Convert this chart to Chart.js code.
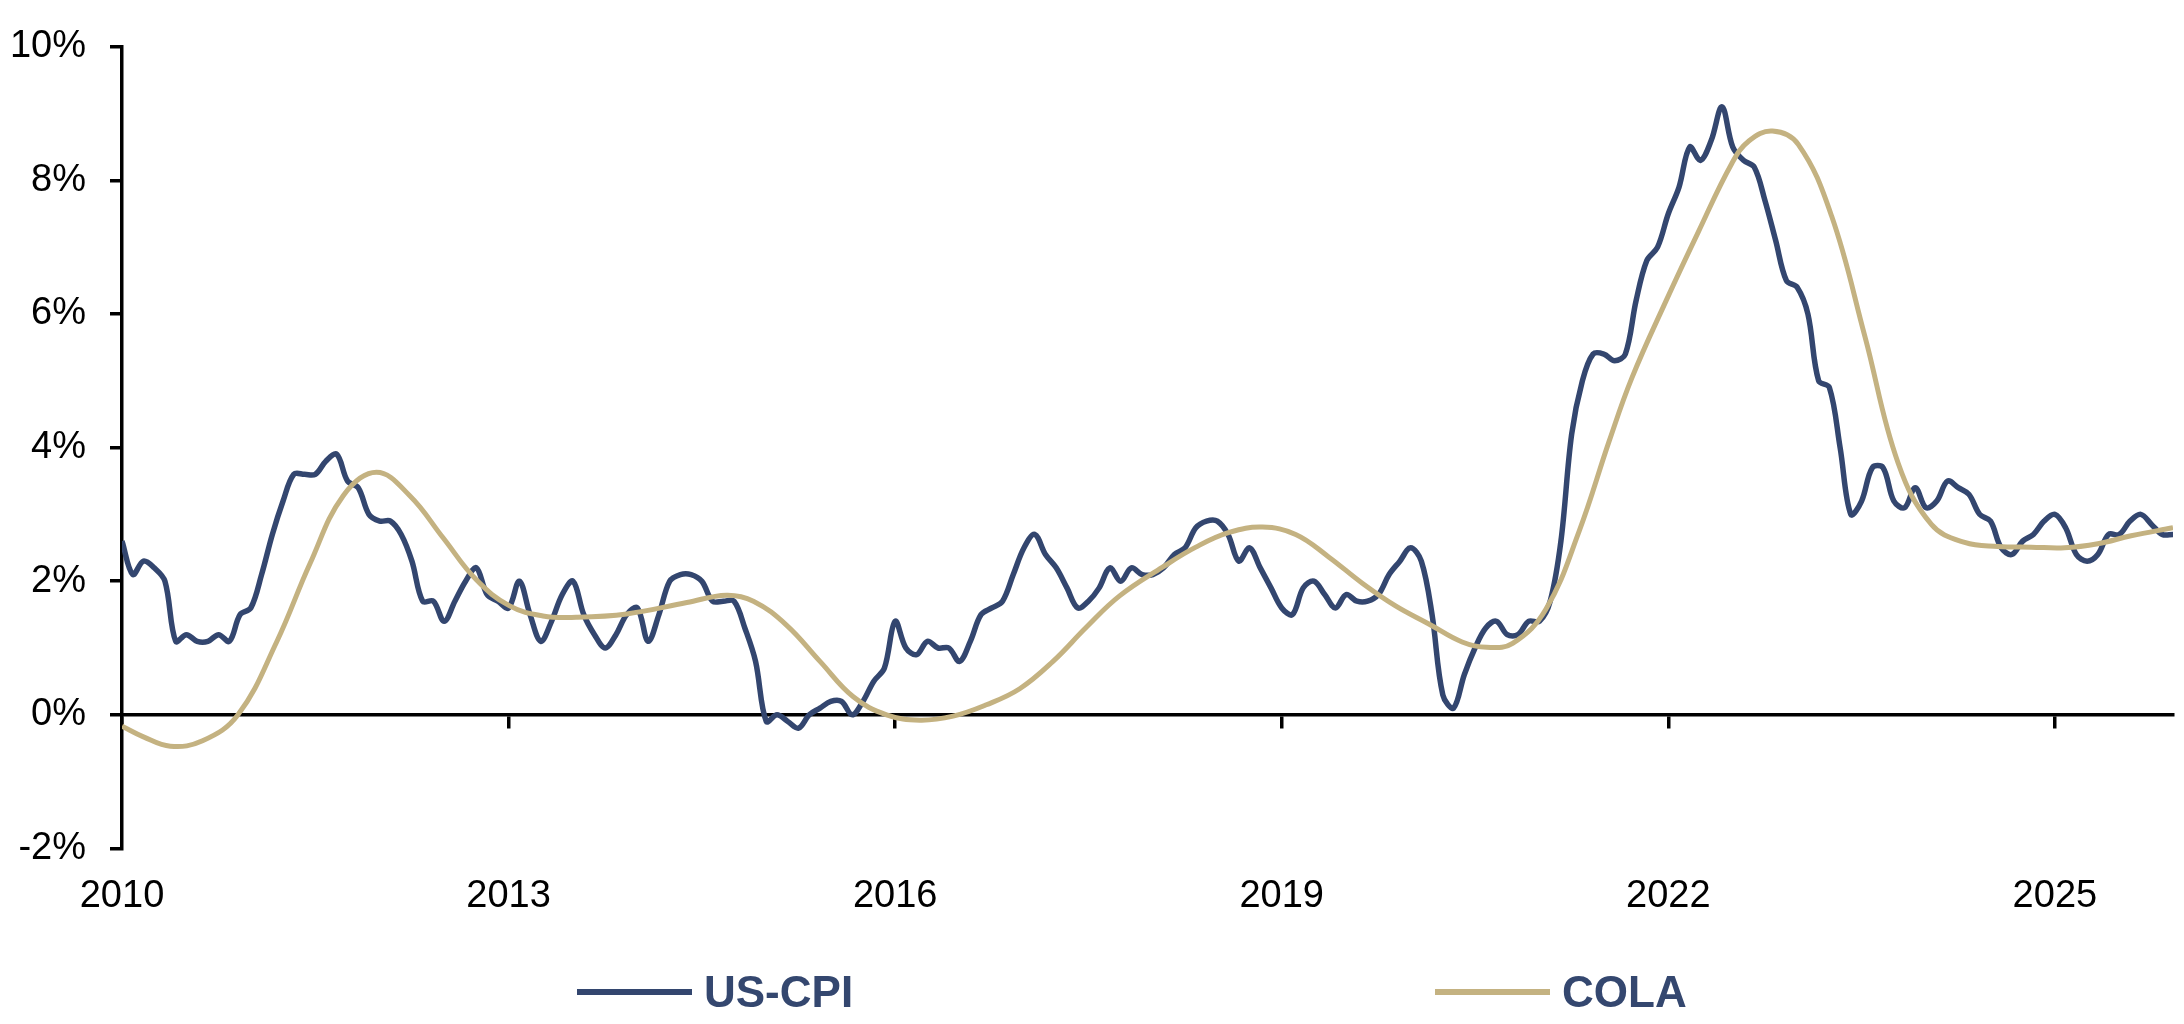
<!DOCTYPE html>
<html>
<head>
<meta charset="utf-8">
<title>US-CPI vs COLA</title>
<script src="https://cdn.jsdelivr.net/npm/chart.js@4.4.1/dist/chart.umd.min.js"></script>
<style>
    html, body { margin: 0; padding: 0; background: #ffffff; }
    #wrap { position: relative; width: 2184px; height: 1024px; }
    #chart { display: block; }
    .legend-item {
        position: absolute;
        top: 966px;
        height: 52px;
        display: flex;
        align-items: center;
        font-family: "Liberation Sans", Arial, sans-serif;
        font-weight: bold;
        font-size: 44px;
        color: #34476f;
        white-space: nowrap;
    }
    .legend-line { width: 115px; height: 6px; margin-right: 12px; }
</style>
</head>
<body>
<div id="wrap">
    <canvas id="chart" width="2184" height="1024"></canvas>
    <div class="legend-item" style="left: 577px;"><span class="legend-line" style="background: #33466f;"></span>US-CPI</div>
    <div class="legend-item" style="left: 1435px;"><span class="legend-line" style="background: #c4b281;"></span>COLA</div>
</div>

<script>
// Data (month index 0 = Jan 2010)
const startYear = 2010;
const lastMonth = 191;

// US-CPI year over year, %, monthly Jan 2010 .. Dec 2025
const cpiValues = [
    2.6, 2.1, 2.3, 2.2, 2.0, 1.1, 1.2, 1.1, 1.1, 1.2, 1.1, 1.5,
    1.6, 2.1, 2.7, 3.2, 3.6, 3.6, 3.6, 3.8, 3.9, 3.5, 3.4, 3.0,
    2.9, 2.9, 2.7, 2.3, 1.7, 1.7, 1.4, 1.7, 2.0, 2.2, 1.8, 1.7,
    1.6, 2.0, 1.5, 1.1, 1.4, 1.8, 2.0, 1.5, 1.2, 1.0, 1.2, 1.5,
    1.6, 1.1, 1.5, 2.0, 2.1, 2.1, 2.0, 1.7, 1.7, 1.7, 1.3, 0.8,
    -0.1, 0.0, -0.1, -0.2, 0.0, 0.1, 0.2, 0.2, 0.0, 0.2, 0.5, 0.7,
    1.4, 1.0, 0.9, 1.1, 1.0, 1.0, 0.8, 1.1, 1.5, 1.6, 1.7, 2.1,
    2.5, 2.7, 2.4, 2.2, 1.9, 1.6, 1.7, 1.9, 2.2, 2.0, 2.2, 2.1,
    2.1, 2.2, 2.4, 2.5, 2.8, 2.9, 2.9, 2.7, 2.3, 2.5, 2.2, 1.9,
    1.6, 1.5, 1.9, 2.0, 1.8, 1.6, 1.8, 1.7, 1.7, 1.8, 2.1, 2.3,
    2.5, 2.3, 1.5, 0.3, 0.1, 0.6, 1.0, 1.3, 1.4, 1.2, 1.2, 1.4,
    1.4, 1.7, 2.6, 4.2, 5.0, 5.4, 5.4, 5.3, 5.4, 6.2, 6.8, 7.0,
    7.5, 7.9, 8.5, 8.3, 8.6, 9.1, 8.5, 8.3, 8.2, 7.7, 7.1, 6.5,
    6.4, 6.0, 5.0, 4.9, 4.0, 3.0, 3.2, 3.7, 3.7, 3.2, 3.1, 3.4,
    3.1, 3.2, 3.5, 3.4, 3.3, 3.0, 2.9, 2.5, 2.4, 2.6, 2.7, 2.9,
    3.0, 2.8, 2.4, 2.3, 2.4, 2.7, 2.7, 2.9, 3.0, 2.85, 2.7, 2.7
];

// COLA curve (month index, %)
const colaMonths = [
    0, 2, 4.5, 7.5, 10.8, 14.4, 17.5, 20.6, 23.7, 26.8, 29.9, 33,
    36.1, 39.2, 42.3, 47, 52.6, 56.3, 58.8, 61.9, 65, 68.1, 71.2,
    74.3, 77.4, 80.5, 83.6, 86.7, 89.8, 92.9, 96.9, 100, 103.1,
    106.2, 109.3, 112.4, 115.5, 118.6, 121.7, 124.8, 127.1, 129.5,
    132.6, 135.7, 138.5, 140.6, 143.8, 146.8, 149.9, 151.5, 153.7,
    156.1, 159.2, 162.3, 165.4, 168.5, 171.6, 174.7, 177.8, 180.9,
    184, 187.1, 191
];
const colaValues = [
    -0.17, -0.33, -0.47, -0.39, 0.0, 1.09, 2.26, 3.28, 3.63, 3.28, 2.65, 2.02,
    1.63, 1.48, 1.46, 1.51, 1.68, 1.79, 1.70, 1.34, 0.80, 0.27, 0.0,
    -0.08, -0.02, 0.15, 0.39, 0.80, 1.31, 1.78, 2.21, 2.51, 2.73,
    2.81, 2.70, 2.36, 1.97, 1.63, 1.36, 1.09, 1.01, 1.07,
    1.58, 2.75, 4.10, 5.04, 6.20, 7.23, 8.25, 8.59, 8.74,
    8.54, 7.47, 5.67, 3.77, 2.85, 2.58, 2.52, 2.51, 2.50,
    2.56, 2.68, 2.80
];

// Axis ticks
const yearTickMonths = [0, 36, 72, 108, 144, 180];
const yMin = -2;
const yMax = 10;
const yStep = 2;

const navy = '#33466f';
const tan = '#c4b281';
const fontFamily = '"Liberation Sans", Arial, sans-serif';

// Build point lists from the arrays
function buildPoints(xs, ys) {
    return ys.map((v, i) => ({ x: xs[i], y: v }));
}

function setYearTicks(scale) {
    scale.ticks = yearTickMonths.map(v => ({ value: v }));
}

function drawChart() {
    const ctx = document.getElementById('chart').getContext('2d');
    const cpiPoints = buildPoints(cpiValues.map((v, i) => i), cpiValues);
    const colaPoints = buildPoints(colaMonths, colaValues);

    new Chart(ctx, {
        type: 'line',
        data: {
            datasets: [{
                label: 'US-CPI',
                data: cpiPoints,
                borderColor: navy,
                backgroundColor: navy,
                borderWidth: 5.5,
                pointRadius: 0,
                tension: 0.35,
                order: 1
            }, {
                label: 'COLA',
                data: colaPoints,
                borderColor: tan,
                backgroundColor: tan,
                borderWidth: 5,
                pointRadius: 0,
                tension: 0.4,
                order: 0
            }]
        },
        options: {
            responsive: false,
            animation: false,
            devicePixelRatio: 1,
            layout: {
                padding: { top: 27, right: 11, bottom: 80, left: 0 }
            },
            plugins: {
                legend: { display: false },
                tooltip: { enabled: false }
            },
            scales: {
                // year labels at the bottom
                x: {
                    type: 'linear',
                    position: 'bottom',
                    min: 0,
                    max: lastMonth,
                    afterBuildTicks: setYearTicks,
                    grid: { display: false, drawTicks: false },
                    border: { display: false },
                    ticks: {
                        autoSkip: false,
                        maxRotation: 0,
                        padding: 25,
                        color: '#000000',
                        font: { family: fontFamily, size: 38 },
                        callback: value => String(startYear + value / 12)
                    }
                },
                // axis line and tick marks crossing at 0%
                xZero: {
                    type: 'linear',
                    axis: 'x',
                    position: { y: 0 },
                    min: 0,
                    max: lastMonth,
                    afterBuildTicks: setYearTicks,
                    grid: {
                        drawOnChartArea: false,
                        drawTicks: true,
                        tickLength: 12,
                        color: '#000000',
                        lineWidth: 3.5
                    },
                    border: { display: true, color: '#000000', width: 3.5 },
                    ticks: { display: false }
                },
                y: {
                    min: yMin,
                    max: yMax,
                    afterFit: scale => { scale.width = 122; },
                    grid: {
                        drawOnChartArea: false,
                        drawTicks: true,
                        tickLength: 12,
                        color: '#000000',
                        lineWidth: 3.5
                    },
                    border: { display: true, color: '#000000', width: 3.5 },
                    ticks: {
                        stepSize: yStep,
                        padding: 24,
                        color: '#000000',
                        font: { family: fontFamily, size: 38 },
                        callback: value => value + '%'
                    }
                }
            }
        }
    });
}

drawChart();
</script>
</body>
</html>
